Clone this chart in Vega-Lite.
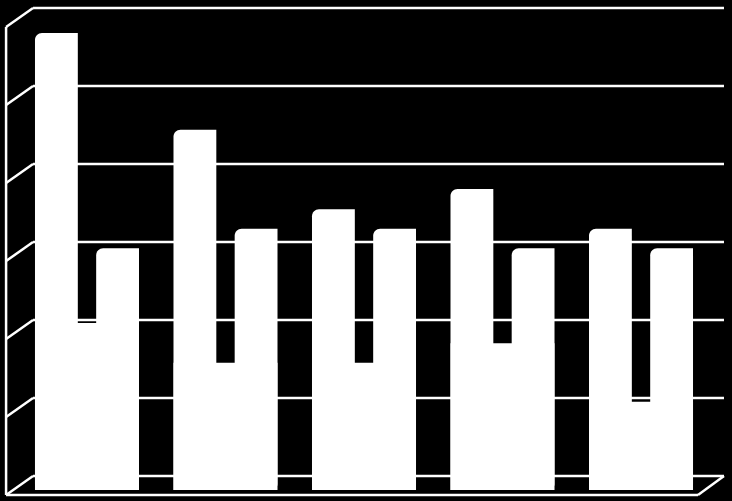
{
  "$schema": "https://vega.github.io/schema/vega-lite/v6.json",
  "width": 732,
  "height": 501,
  "autosize": {"type": "none"},
  "padding": 0,
  "background": "#000000",
  "config": {"view": {"stroke": null}},
  "datasets": {
    "frame": [
      {"x": 0, "y": 0, "x2": 5, "y2": 0},
      {"x": 0, "y": 1, "x2": 5, "y2": 1},
      {"x": 0, "y": 2, "x2": 5, "y2": 2},
      {"x": 0, "y": 3, "x2": 5, "y2": 3},
      {"x": 0, "y": 4, "x2": 5, "y2": 4},
      {"x": 0, "y": 5, "x2": 5, "y2": 5},
      {"x": 0, "y": 6, "x2": 5, "y2": 6},
      {"x": -0.195, "y": -0.244, "x2": 0, "y2": 0},
      {"x": -0.195, "y": 0.756, "x2": 0, "y2": 1},
      {"x": -0.195, "y": 1.756, "x2": 0, "y2": 2},
      {"x": -0.195, "y": 2.756, "x2": 0, "y2": 3},
      {"x": -0.195, "y": 3.756, "x2": 0, "y2": 4},
      {"x": -0.195, "y": 4.756, "x2": 0, "y2": 5},
      {"x": -0.195, "y": 5.756, "x2": 0, "y2": 6},
      {"x": -0.195, "y": -0.244, "x2": -0.195, "y2": 5.756},
      {"x": -0.195, "y": -0.244, "x2": 4.812, "y2": -0.244},
      {"x": 4.812, "y": -0.244, "x2": 5, "y2": 0}
    ],
    "bars": [
      {"group": "1", "series": "A", "value": 5.86},
      {"group": "1", "series": "B", "value": 2.14},
      {"group": "1", "series": "C", "value": 3.10},
      {"group": "2", "series": "A", "value": 4.62},
      {"group": "2", "series": "B", "value": 1.63},
      {"group": "2", "series": "C", "value": 3.35},
      {"group": "3", "series": "A", "value": 3.60},
      {"group": "3", "series": "B", "value": 1.63},
      {"group": "3", "series": "C", "value": 3.35},
      {"group": "4", "series": "A", "value": 3.86},
      {"group": "4", "series": "B", "value": 1.88},
      {"group": "4", "series": "C", "value": 3.10},
      {"group": "5", "series": "A", "value": 3.35},
      {"group": "5", "series": "B", "value": 1.13},
      {"group": "5", "series": "C", "value": 3.10}
    ]
  },
  "layer": [
    {
      "data": {"name": "frame"},
      "mark": {"type": "rule", "color": "#ffffff", "strokeWidth": 2.5},
      "encoding": {
        "x": {"field": "x", "type": "quantitative", "scale": {"domain": [-0.239, 5.058], "nice": false, "zero": false}, "axis": null},
        "x2": {"field": "x2"},
        "y": {"field": "y", "type": "quantitative", "scale": {"domain": [-0.321, 6.103], "nice": false, "zero": false}, "axis": null},
        "y2": {"field": "y2"}
      }
    },
    {
      "data": {"name": "bars"},
      "encoding": {
        "x": {
          "field": "group",
          "type": "nominal",
          "scale": {"domain": ["1", "2", "3", "4", "5"], "paddingInner": 0.249, "paddingOuter": 0.267, "align": 0.473},
          "axis": null
        },
        "y": {"field": "value", "type": "quantitative", "scale": {"domain": [-0.141, 6.282], "nice": false, "zero": false}, "axis": null},
        "y2": {"datum": 0}
      },
      "layer": [
        {
          "transform": [{"filter": "datum.series === 'B'"}],
          "mark": {"type": "bar", "color": "#ffffff"}
        },
        {
          "transform": [{"filter": "datum.series !== 'B'"}],
          "mark": {"type": "bar", "color": "#ffffff", "cornerRadiusTopLeft": 7, "cornerRadiusBottomRight": 6},
          "encoding": {
            "xOffset": {"field": "series", "type": "nominal", "scale": {"domain": ["A", "C"], "paddingInner": 0.3, "paddingOuter": 0}}
          }
        }
      ]
    }
  ],
  "resolve": {"scale": {"x": "independent", "y": "independent"}}
}
